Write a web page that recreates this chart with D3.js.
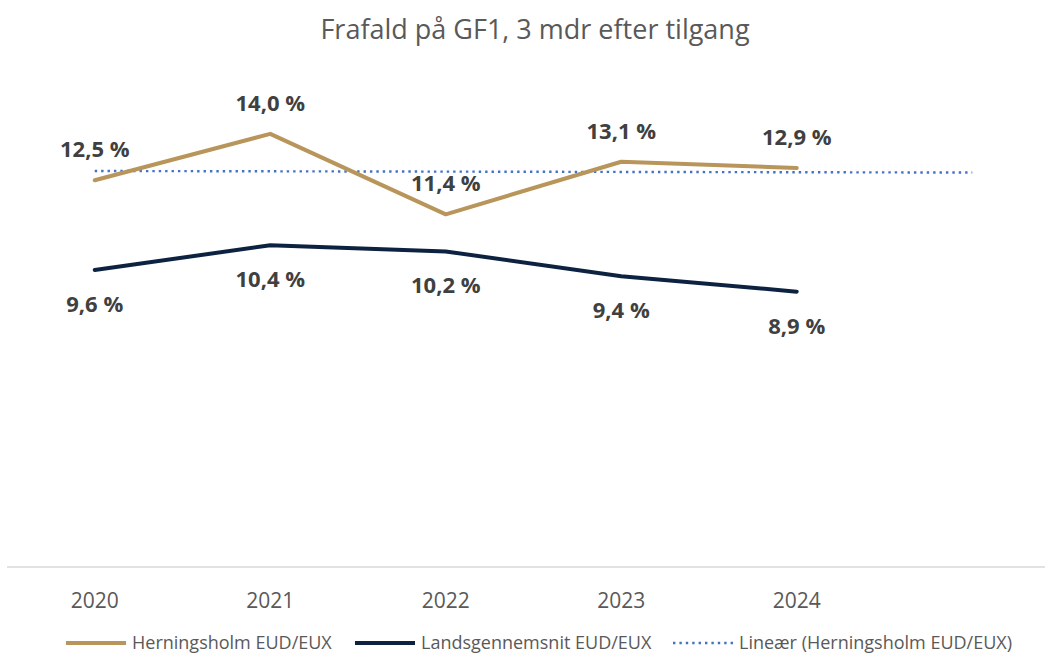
<!DOCTYPE html>
<html>
<head>
<meta charset="utf-8">
<script src="https://cdn.jsdelivr.net/npm/d3@7"></script>
<style>
  body { margin: 0; background: #fff; }
  svg { display: block; font-family: "Open Sans", sans-serif; }
</style>
</head>
<body>
<div class="chart-area"></div>
<script>
const years = ["2020", "2021", "2022", "2023", "2024"];
const herningsholm = [12.5, 14.0, 11.4, 13.1, 12.9];
const landsgennemsnit = [9.6, 10.4, 10.2, 9.4, 8.9];
const seriesNames = ["Herningsholm EUD/EUX", "Landsgennemsnit EUD/EUX", "Lineær (Herningsholm EUD/EUX)"];
const title = "Frafald på GF1, 3 mdr efter tilgang";

const width = 1045;
const height = 655;

const gold = "#b8955a";
const navy = "#0d2240";
const blue = "#4472c4";

const svg = d3.select(".chart-area")
    .append("svg")
    .attr("width", width)
    .attr("height", height);

// one extra slot on the right, the trend line runs into it
const x = d3.scaleBand()
    .domain(d3.range(years.length + 1))
    .range([7, 1060]);

const cx = i => x(i) + x.bandwidth() / 2;

const y = d3.scaleLinear()
    .domain([0, 16])
    .range([567, 72]);

const fmt = v => d3.format(".1f")(v).replace(".", ",") + " %";

// title
svg.append("text")
    .attr("x", 535)
    .attr("y", 39)
    .attr("text-anchor", "middle")
    .attr("fill", "#595959")
    .style("font-size", "27px")
    .text(title);

// baseline + year labels
svg.append("line")
    .attr("x1", 7)
    .attr("x2", width)
    .attr("y1", y(0))
    .attr("y2", y(0))
    .attr("stroke", "#d9d9d9")
    .attr("stroke-width", 1.3);

svg.selectAll(".year")
    .data(years)
    .enter().append("text")
    .attr("class", "year")
    .attr("x", (d, i) => cx(i))
    .attr("y", 608)
    .attr("text-anchor", "middle")
    .attr("fill", "#595959")
    .style("font-size", "21px")
    .text(d => d);

// linear trend of herningsholm
const xs = d3.range(herningsholm.length);
const mx = d3.mean(xs), my = d3.mean(herningsholm);
const slope = d3.sum(xs, i => (i - mx) * (herningsholm[i] - my)) / d3.sum(xs, i => (i - mx) * (i - mx));
const icpt = my - slope * mx;
const trend = [0, years.length].map(i => [i, icpt + slope * i]);

const line = d3.line()
    .x(d => cx(d[0]))
    .y(d => y(d[1]));

svg.append("path")
    .attr("d", line(trend))
    .attr("fill", "none")
    .attr("stroke", blue)
    .attr("stroke-width", 2.4)
    .attr("stroke-dasharray", "2.4,4");

svg.append("path")
    .attr("d", line(herningsholm.map((v, i) => [i, v])))
    .attr("fill", "none")
    .attr("stroke", gold)
    .attr("stroke-width", 4)
    .attr("stroke-linejoin", "round")
    .attr("stroke-linecap", "round");

svg.append("path")
    .attr("d", line(landsgennemsnit.map((v, i) => [i, v])))
    .attr("fill", "none")
    .attr("stroke", navy)
    .attr("stroke-width", 4)
    .attr("stroke-linejoin", "round")
    .attr("stroke-linecap", "round");

// data labels
svg.selectAll(".lblH")
    .data(herningsholm)
    .enter().append("text")
    .attr("class", "lblH")
    .attr("x", (d, i) => cx(i))
    .attr("y", d => y(d) - 23)
    .attr("text-anchor", "middle")
    .attr("fill", "#404040")
    .style("font-size", "22px")
    .style("font-weight", "bold")
    .text(fmt);

svg.selectAll(".lblL")
    .data(landsgennemsnit)
    .enter().append("text")
    .attr("class", "lblL")
    .attr("x", (d, i) => cx(i))
    .attr("y", d => y(d) + 42)
    .attr("text-anchor", "middle")
    .attr("fill", "#404040")
    .style("font-size", "22px")
    .style("font-weight", "bold")
    .text(fmt);

// legend
const legend = [
    { name: seriesNames[0], color: gold, x: 66, w: 4, dash: null },
    { name: seriesNames[1], color: navy, x: 355, w: 4, dash: null },
    { name: seriesNames[2], color: blue, x: 673, w: 2.4, dash: "2.4,4" }
];

const lg = svg.selectAll(".legend")
    .data(legend)
    .enter().append("g")
    .attr("class", "legend")
    .attr("transform", d => `translate(${d.x}, 643)`);

lg.append("line")
    .attr("x1", 0)
    .attr("x2", 60)
    .attr("stroke", d => d.color)
    .attr("stroke-width", d => d.w)
    .attr("stroke-dasharray", d => d.dash);

lg.append("text")
    .attr("x", 66)
    .attr("y", 6)
    .attr("fill", "#595959")
    .style("font-size", "18px")
    .text(d => d.name);
</script>
</body>
</html>
